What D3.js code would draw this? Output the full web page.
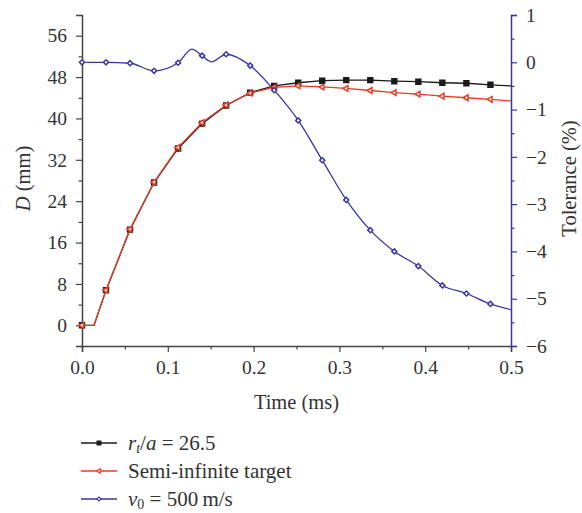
<!DOCTYPE html>
<meta charset="utf-8">
<script src="https://d3js.org/d3.v7.min.js"></script>
<style>
    body { margin: 0; background: #fff; }
    text { font-family: "Liberation Serif", "DejaVu Serif", serif; fill: #333; }
</style>
<svg id="chart" width="582" height="513"></svg>
<script>
    // marker positions along the time axis (ms)
    var markTimes = [0, 0.028, 0.056, 0.084, 0.112, 0.14, 0.168, 0.196, 0.224, 0.252,
        0.28, 0.308, 0.336, 0.364, 0.392, 0.42, 0.448, 0.476];

    // crater diameter D (mm)
    var timeD = [0, 0.014, 0.028, 0.056, 0.084, 0.112, 0.14, 0.168, 0.196, 0.224, 0.252,
        0.28, 0.308, 0.336, 0.364, 0.392, 0.42, 0.448, 0.476, 0.5];
    var rtD = [0, 0, 6.8, 18.5, 27.6, 34.2, 39.0, 42.5, 45.0, 46.3, 46.9,
        47.3, 47.4, 47.4, 47.2, 47.1, 46.9, 46.8, 46.5, 46.3];
    var semiD = [0, 0, 6.8, 18.6, 27.7, 34.4, 39.2, 42.6, 44.9, 46.0, 46.3,
        46.1, 45.8, 45.4, 45.0, 44.7, 44.3, 44.0, 43.7, 43.4];

    // tolerance (%)
    var timeTol = [0, 0.028, 0.056, 0.084, 0.112, 0.128, 0.14, 0.151, 0.168, 0.196, 0.224,
        0.252, 0.28, 0.308, 0.336, 0.364, 0.392, 0.42, 0.448, 0.476, 0.5];
    var tol = [0, 0, -0.02, -0.18, -0.01, 0.28, 0.14, 0.01, 0.17, -0.07, -0.59,
        -1.23, -2.07, -2.91, -3.55, -4.0, -4.31, -4.72, -4.89, -5.11, -5.23];

    var xTicks = [0, 0.1, 0.2, 0.3, 0.4, 0.5];
    var yTicks = [0, 8, 16, 24, 32, 40, 48, 56];
    var y2Ticks = [-6, -5, -4, -3, -2, -1, 0, 1];

    var margin = { top: 15, right: 71, bottom: 167, left: 82 },
        width = 582 - margin.left - margin.right,
        height = 513 - margin.top - margin.bottom;

    var svg = d3.select("#chart")
        .append("g")
        .attr("transform", "translate(" + margin.left + "," + margin.top + ")");

    var x = d3.scaleLinear().domain([0, 0.5]).range([0, width]);
    var y = d3.scaleLinear().domain([-4, 60]).range([height, 0]);
    var y2 = d3.scaleLinear().domain([-6, 1]).range([height, 0]);

    var axisCol = "#444", blueCol = "#3b35a0";

    function minor(axis, values, col) {
        var g = svg.append("g").attr("transform", axis.t);
        g.call(axis.a.tickValues(values).tickSize(3.5).tickFormat(""));
        g.select(".domain").remove();
        g.selectAll("line").attr("stroke", col).attr("stroke-width", 1.2);
    }

    // minor ticks
    minor({ a: d3.axisBottom(x), t: "translate(0," + height + ")" },
        [0.05, 0.15, 0.25, 0.35, 0.45], axisCol);
    minor({ a: d3.axisLeft(y), t: null }, [-4, 4, 12, 20, 28, 36, 44, 52, 60], axisCol);
    minor({ a: d3.axisRight(y2), t: "translate(" + width + ",0)" },
        [-5.5, -4.5, -3.5, -2.5, -1.5, -0.5, 0.5], blueCol);

    // major axes
    var gx = svg.append("g")
        .attr("transform", "translate(0," + height + ")")
        .call(d3.axisBottom(x).tickValues(xTicks).tickSize(6).tickPadding(8).tickFormat(d3.format(".1f")));
    var gy = svg.append("g")
        .call(d3.axisLeft(y).tickValues(yTicks).tickSize(6).tickPadding(9).tickFormat(d3.format("d")));
    var gy2 = svg.append("g")
        .attr("transform", "translate(" + width + ",0)")
        .call(d3.axisRight(y2).tickValues(y2Ticks).tickSize(6).tickPadding(9).tickFormat(d3.format("d")));

    [gx, gy].forEach(function(g) {
        g.select(".domain").attr("stroke", axisCol).attr("stroke-width", 1.5);
        g.selectAll(".tick line").attr("stroke", axisCol).attr("stroke-width", 1.2);
    });
    gy2.select(".domain").attr("stroke", blueCol).attr("stroke-width", 1.5);
    gy2.selectAll(".tick line").attr("stroke", blueCol).attr("stroke-width", 1.2);
    svg.selectAll(".tick text")
        .style("font-family", "'Liberation Serif', serif")
        .style("font-size", "19.5px")
        .attr("fill", "#333");

    // axis titles
    svg.append("text")
        .attr("x", width / 2)
        .attr("y", height + 63)
        .attr("text-anchor", "middle")
        .style("font-size", "20.5px")
        .text("Time (ms)");

    var yt = svg.append("text")
        .attr("transform", "translate(" + (-52) + "," + (height / 2 - 2) + ") rotate(-90)")
        .attr("text-anchor", "middle")
        .style("font-size", "20.5px");
    yt.append("tspan").style("font-style", "italic").text("D");
    yt.append("tspan").text(" (mm)");

    svg.append("text")
        .attr("transform", "translate(" + (width + 65) + "," + (height / 2 - 2) + ") rotate(-90)")
        .attr("text-anchor", "middle")
        .style("font-size", "20.5px")
        .text("Tolerance (%)");

    // series
    var series = [
        { t: timeD, v: rtD, scale: y, color: "#1a1a1a", sym: d3.symbolSquare, size: 24, fill: "#1a1a1a", rot: 0, curve: d3.curveLinear },
        { t: timeD, v: semiD, scale: y, color: "#ec3b24", sym: d3.symbolTriangle, size: 14, fill: "#fff", rot: -90, curve: d3.curveLinear },
        { t: timeTol, v: tol, scale: y2, color: blueCol, sym: d3.symbolSquare, size: 13, fill: "#fff", rot: 45, curve: d3.curveMonotoneX }
    ];

    series.forEach(function(s) {
        var pts = s.t.map(function(t, i) { return [t, s.v[i]]; });
        var line = d3.line()
            .x(function(d) { return x(d[0]); })
            .y(function(d) { return s.scale(d[1]); })
            .curve(s.curve);
        svg.append("path")
            .datum(pts)
            .attr("fill", "none")
            .attr("stroke", s.color)
            .attr("stroke-width", 1.3)
            .attr("d", line);

        var marks = pts.filter(function(d) {
            return markTimes.some(function(m) { return Math.abs(m - d[0]) < 1e-6; });
        });
        svg.append("g")
            .selectAll("path")
            .data(marks)
            .enter().append("path")
            .attr("d", d3.symbol().type(s.sym).size(s.size))
            .attr("transform", function(d) {
                return "translate(" + x(d[0]) + "," + s.scale(d[1]) + ") rotate(" + s.rot + ")";
            })
            .attr("fill", s.fill)
            .attr("stroke", s.color)
            .attr("stroke-width", 1.5);
    });

    // legend
    var legend = svg.append("g").attr("transform", "translate(" + (-1) + "," + (height + 97) + ")");
    series.forEach(function(s, i) {
        var row = legend.append("g").attr("transform", "translate(0," + (i * 28) + ")");
        row.append("line")
            .attr("x1", 0).attr("x2", 36)
            .attr("stroke", s.color).attr("stroke-width", 1.3);
        row.append("path")
            .attr("d", d3.symbol().type(s.sym).size(s.size * 0.6))
            .attr("transform", "translate(18,0) rotate(" + s.rot + ")")
            .attr("fill", s.fill)
            .attr("stroke", s.color)
            .attr("stroke-width", 1.2);
        var txt = row.append("text")
            .attr("x", 47)
            .attr("dy", "0.33em")
            .style("font-size", "21px");
        if (i === 0) {
            txt.append("tspan").style("font-style", "italic").text("r");
            txt.append("tspan").style("font-style", "italic").style("font-size", "14px").attr("dy", 3).text("t");
            txt.append("tspan").attr("dy", -3).text("/");
            txt.append("tspan").style("font-style", "italic").text("a");
            txt.append("tspan").text(" = 26.5");
        } else if (i === 1) {
            txt.text("Semi-infinite target");
        } else {
            txt.append("tspan").style("font-style", "italic").text("v");
            txt.append("tspan").style("font-size", "14px").attr("dy", 3).text("0");
            txt.append("tspan").attr("dy", -3).text(" = 500\u2009m/s");
        }
    });
</script>
